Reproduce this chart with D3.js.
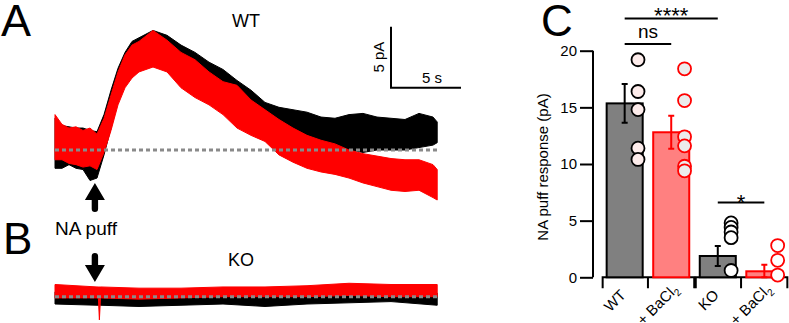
<!DOCTYPE html>
<html><head><meta charset="utf-8">
<script src="https://cdn.jsdelivr.net/npm/d3@7"></script>
<style>body{margin:0;background:#fff}svg{display:block;font-family:"Liberation Sans",Arial,sans-serif}</style>
</head><body><svg id="c" width="789" height="323"></svg>
<script>
// ---------- Panel A / B traces (time s, current pA; hi/lo = envelope of noisy recording)
const traceTime = [0,0.5,1,1.5,2,2.5,3,3.5,4,4.5,5,5.5,6,7,8,9,10,11,12,13,14,15,16,17,18,19,20,21,22,23,24,25,26,27,27.3];
const wtBlackHi = [2.6,2.0,1.9,1.8,1.8,1.6,1.5,2.9,4.9,6.7,8.0,8.9,9.2,9.8,9.4,8.6,8.0,7.2,6.6,5.7,4.9,3.9,3.5,3.3,3.1,2.7,2.6,2.9,3.0,2.7,2.6,2.5,3.0,2.7,2.3];
const wtBlackLo = [-1.5,-1.5,-1.2,-1.5,-1.6,-2.5,-2.3,-0.4,1.8,4.1,5.3,6.2,6.7,7.2,7.0,5.9,5.1,4.5,3.9,3.3,2.3,1.5,1.0,0.7,0.4,0.3,0.0,0.0,-0.2,0.0,0.0,0.0,0.2,0.4,0.6];
const wtRedHi = [2.9,2.1,1.8,1.9,1.6,1.8,1.3,2.6,4.5,6.4,7.8,8.6,8.9,9.8,9.0,8.0,7.4,6.4,5.6,5.3,4.1,3.3,2.5,1.8,1.2,0.8,0.5,0.0,-0.3,-0.5,-0.7,-0.8,-0.8,-1.2,-1.6];
const wtRedLo = [-0.8,-0.8,-1.1,-1.2,-1.4,-1.3,-1.6,-0.2,1.6,3.7,5.1,5.9,6.4,6.8,6.4,5.1,4.3,3.7,2.9,1.8,1.2,0.7,-0.4,-1.0,-1.5,-1.8,-2.0,-2.3,-2.7,-3.0,-3.3,-3.4,-3.3,-3.9,-4.1];

const koTime = [0,3,3.1,3.17,3.25,6,9,12,15,18,21,24,27.3];
const koBlackHi = [0.4,0.3,0.3,0.3,0.3,0.3,0.3,0.3,0.3,0.3,0.3,0.3,0.3];
const koBlackLo = [-0.6,-0.7,-0.7,-0.7,-0.7,-0.8,-0.7,-0.6,-0.8,-0.6,-0.5,-0.4,-0.7];
const koRedHi = [1.0,0.8,0.8,0.8,0.8,0.7,0.7,0.8,0.8,0.9,1.1,1.0,1.0];
const koRedLo = [-0.1,-0.1,-0.1,-1.9,-0.1,-0.2,-0.1,0.0,0.0,0.0,0.1,0.0,0.0];

const puffTime = 2.85;
const scaleBarTime = 5, scaleBarCurrent = 5;

// ---------- Panel C bar chart
const groups = ["WT","WT+Ba","KO","KO+Ba"];
const groupLabels = [["WT",""],["+ BaCl","2"],["KO",""],["+ BaCl","2"]];
const means = [15.35, 12.8, 1.88, 0.53];
const sems = [1.7, 1.45, 0.88, 0.57];
const points = [
  [19.2,16.4,14.8,11.4,10.4],
  [18.4,15.6,12.4,11.6,9.8,9.4],
  [4.8,4.4,4.0,3.5,0.6],
  [2.8,1.5,0.2]
];
const yTicks = [0,5,10,15,20];
const sigTests = [
  {a:0,b:2,label:"****",level:22.85},
  {a:0,b:1,label:"ns",level:20.6},
  {a:2,b:3,label:"*",level:6.6}
];

// ---------- drawing
const svg = d3.select("#c");
const RED = "#ff0000";

// Panel letters
svg.append("text").attr("x",1).attr("y",36).attr("font-size",45).text("A");
svg.append("text").attr("x",3).attr("y",254).attr("font-size",44).text("B");
svg.append("text").attr("x",541).attr("y",36).attr("font-size",44).text("C");

const xT = d3.scaleLinear().domain([0,5]).range([55,125]);
const yA = d3.scaleLinear().domain([0,5]).range([150,89]);
const yB = d3.scaleLinear().domain([0,5]).range([296.7,235.7]);

function band(times, hi, lo, yS, color){
  const data = times.map((t,i)=>({t,hi:hi[i],lo:lo[i]}));
  const area = d3.area().x(d=>xT(d.t)).y0(d=>yS(d.lo)).y1(d=>yS(d.hi));
  svg.append("path").datum(data).attr("d",area).attr("fill",color).attr("stroke",color).attr("stroke-width",1);
}
function baseline(times, yS){
  svg.append("line").attr("x1",xT(times[0])).attr("x2",xT(times[times.length-1]))
    .attr("y1",yS(0)).attr("y2",yS(0)).attr("stroke","#8a8a8a").attr("stroke-width",3).attr("stroke-dasharray","4,3");
}
band(traceTime, wtBlackHi, wtBlackLo, yA, "#000");
band(traceTime, wtRedHi, wtRedLo, yA, RED);
baseline(traceTime, yA);
band(koTime, koBlackHi, koBlackLo, yB, "#000");
band(koTime, koRedHi, koRedLo, yB, RED);
baseline(koTime, yB);

svg.append("text").attr("x",246).attr("y",27).attr("font-size",18).attr("text-anchor","middle").text("WT");
svg.append("text").attr("x",241).attr("y",266).attr("font-size",18).attr("text-anchor","middle").text("KO");
svg.append("text").attr("x",86).attr("y",235).attr("font-size",19).attr("text-anchor","middle").text("NA puff");

// arrows
function arrow(x, tipY, tailY){
  const dir = tailY > tipY ? 1 : -1; // 1: points up
  const headL = 17, headW = 10, shaftW = 3.2;
  const baseY = tipY + dir*headL;
  const p = d3.path();
  p.moveTo(x, tipY);
  p.lineTo(x+headW, baseY);
  p.lineTo(x+shaftW, baseY);
  p.lineTo(x+shaftW, tailY - dir*shaftW);
  p.arc(x, tailY - dir*shaftW, shaftW, 0, Math.PI, dir<0);
  p.lineTo(x-shaftW, baseY);
  p.lineTo(x-headW, baseY);
  p.closePath();
  svg.append("path").attr("d",p.toString()).attr("fill","#000");
}
arrow(xT(puffTime), 183, 212);
arrow(xT(puffTime), 282, 253);

// scale bar
const sbX = 391, sbY = 87.7;
const sbW = xT(scaleBarTime)-xT(0), sbH = yA(0)-yA(scaleBarCurrent);
svg.append("path").attr("d",`M${sbX},${sbY-sbH}V${sbY}H${sbX+sbW}`).attr("fill","none").attr("stroke","#000").attr("stroke-width",2);
svg.append("text").attr("transform",`translate(${sbX-7},${sbY-sbH/2}) rotate(-90)`).attr("text-anchor","middle").attr("font-size",15).text(scaleBarCurrent+" pA");
svg.append("text").attr("x",sbX+sbW/2+6).attr("y",sbY-5).attr("text-anchor","middle").attr("font-size",15).text(scaleBarTime+" s");

// Panel C
const yC = d3.scaleLinear().domain([0,20]).range([277.3,50.7]);
const xC = d3.scaleBand().domain(groups).range([602,787]).paddingInner(0.226).paddingOuter(0.1);
const bw = xC.bandwidth();
const cx = i => xC(groups[i]) + bw/2;
const isRed = i => i%2===1;

const yAxis = svg.append("g").attr("transform","translate(593,0)")
  .call(d3.axisLeft(yC).tickValues(yTicks).tickSize(13).tickSizeOuter(0).tickPadding(3));
yAxis.selectAll("path,line").attr("stroke","#000").attr("stroke-width",2);
yAxis.selectAll("text").attr("font-size",15).attr("font-family","Liberation Sans, Arial, sans-serif").attr("fill","#000");
yAxis.select(".domain").attr("d",`M0,${yC(20)}V${yC(0)}`);

svg.append("text").attr("transform",`translate(548,${(yC(0)+yC(20))/2+3}) rotate(-90)`)
  .attr("text-anchor","middle").attr("font-size",15).text("NA puff response (pA)");

// x bracket axis
for (let g=0; g<2; g++){
  const a = xC(groups[2*g]) - 4, b = xC(groups[2*g+1]) + bw + 5;
  const m = (xC(groups[2*g]) + bw + xC(groups[2*g+1]))/2;
  const y0 = yC(0);
  svg.append("path").attr("d",`M${a},${y0+11}V${y0}H${b}V${y0+11}M${m},${y0}V${y0+11}`)
    .attr("fill","none").attr("stroke","#000").attr("stroke-width",2);
}

// bars
groups.forEach((g,i)=>{
  svg.append("rect").attr("x",xC(g)).attr("y",yC(means[i])).attr("width",bw).attr("height",yC(0)-yC(means[i]))
    .attr("fill",isRed(i)?"#ff8080":"#808080").attr("stroke",isRed(i)?RED:"#000").attr("stroke-width",2);
  const c = cx(i), col = isRed(i)?RED:"#000";
  const t = yC(means[i]+sems[i]), b = yC(Math.max(0,means[i]-sems[i]));
  svg.append("path").attr("d",`M${c},${t}V${b}M${c-3},${t}H${c+3}M${c-3},${b}H${c+3}`)
    .attr("stroke",col).attr("stroke-width",2).attr("fill","none");
});
// points
const ptFill = ["#fdeceb","#ececec","#ffffff","#ffffff"];
groups.forEach((g,i)=>{
  points[i].forEach(v=>{
    svg.append("circle").attr("cx",cx(i)+bw*0.37).attr("cy",yC(v)).attr("r",6.5)
      .attr("fill",ptFill[i]).attr("stroke",isRed(i)?RED:"#000").attr("stroke-width",1.8);
  });
});

// category labels (rotated)
groups.forEach((g,i)=>{
  const sub = groupLabels[i][1];
  const t = svg.append("text").attr("transform",`translate(${cx(i)+(sub?8:2)},${sub?290:296}) rotate(-45)`)
    .attr("text-anchor","end").attr("font-size",15);
  t.append("tspan").text(groupLabels[i][0]);
  if (sub) t.append("tspan").attr("font-size",10).attr("dy",4).text(sub);
});

// significance
sigTests.forEach(s=>{
  const y = yC(s.level);
  svg.append("line").attr("x1",cx(s.a)).attr("x2",cx(s.b)).attr("y1",y).attr("y2",y).attr("stroke","#000").attr("stroke-width",2);
  const dy = s.label==="ns" ? -6 : (s.label==="****" ? 4.5 : 7.5);
  svg.append("text").attr("x",(cx(s.a)+cx(s.b))/2).attr("y",y+dy).attr("text-anchor","middle")
    .attr("font-size",s.label==="ns"?19:22).text(s.label);
});
</script></body></html>
